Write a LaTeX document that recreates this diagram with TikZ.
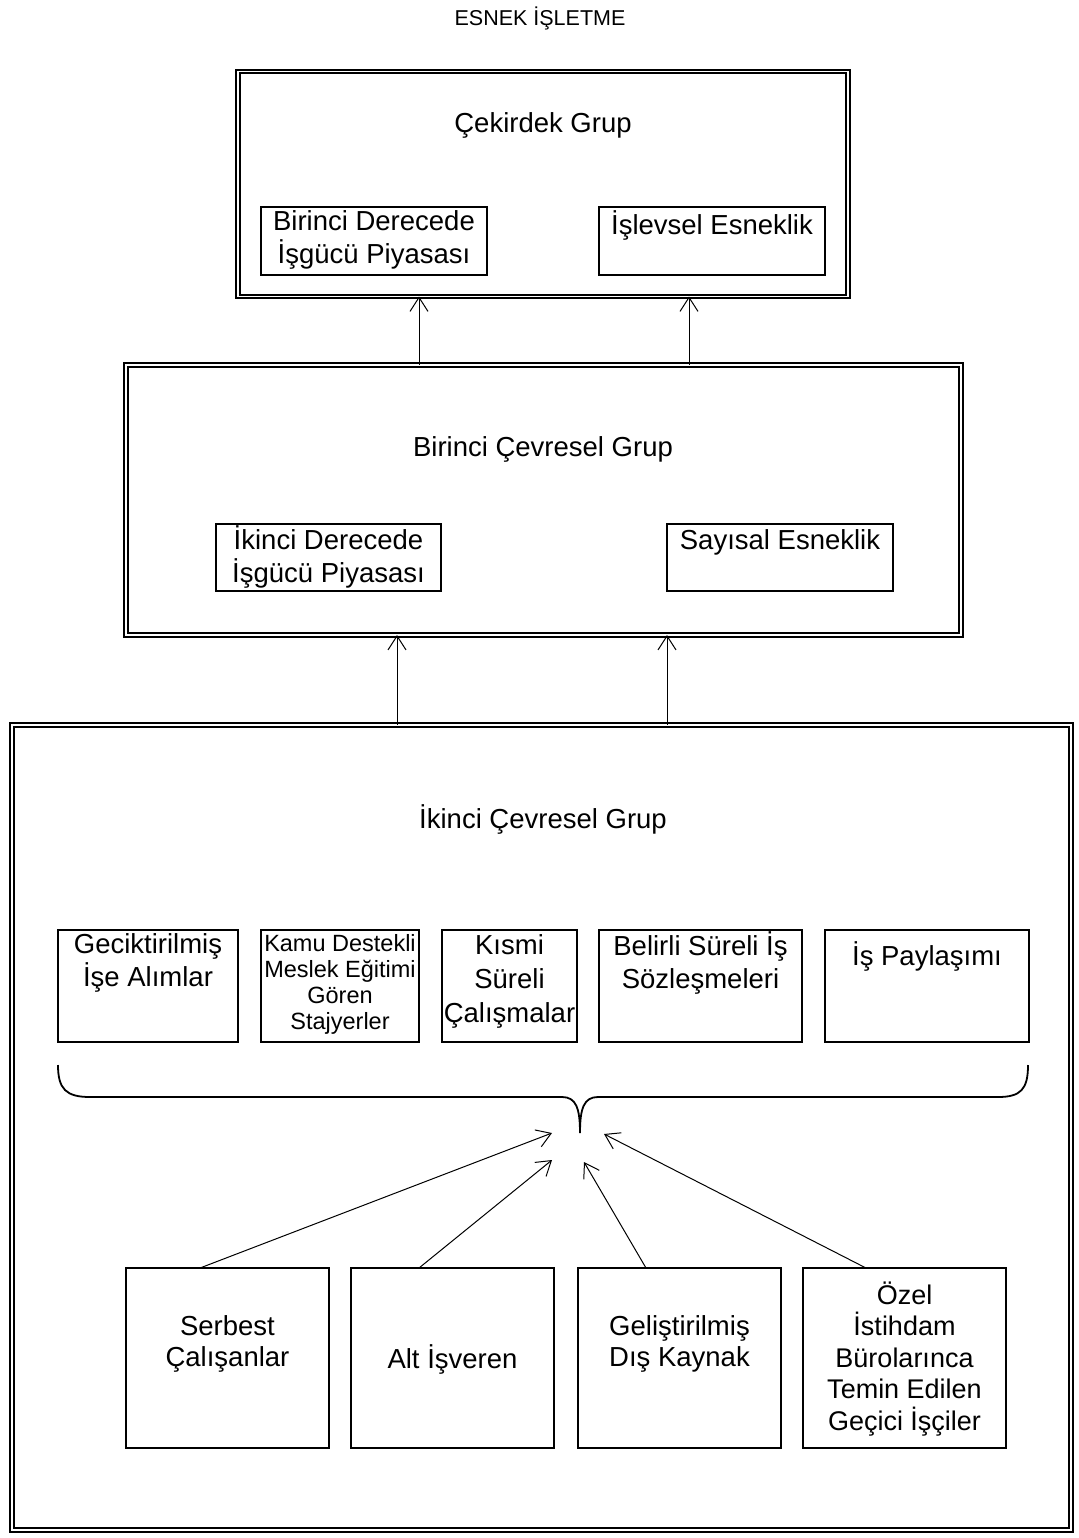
\documentclass[tikz,border=0pt]{standalone}
\usepackage{fontspec}
\setmainfont{Liberation Sans}
\usetikzlibrary{arrows.meta}
\begin{document}
\begin{tikzpicture}[x=1pt,y=-1pt,
  dblbox/.style={draw,double,double distance=1.8pt,line width=2pt,inner sep=0,outer sep=0},
  sbox/.style={draw,line width=1.3pt,inner sep=0,outer sep=0},
  big/.style={font=\fontsize{27.5}{32.5}\selectfont,align=center,inner sep=0},
  small/.style={font=\fontsize{23.5}{26}\selectfont,align=center,inner sep=0},
  arr/.style={line width=1pt,-{Straight Barb[length=14pt,width=18pt,line width=1pt]}}]
\useasboundingbox (0,0) rectangle (1078,1538);

% title
\node[font=\fontsize{21.5}{25}\selectfont,inner sep=0] (title) at (540,18) {ESNEK İŞLETME};

% core group
\node[dblbox,minimum width=610pt,minimum height=225pt] (core) at (543,184) {};
\node[big] (coret) at (543,125) {Çekirdek Grup};
\node[sbox,minimum width=226pt,minimum height=68pt] (b1a) at (374,241) {};
\node[big] (b1at) at (374,240) {Birinci Derecede\\İşgücü Piyasası};
\node[sbox,minimum width=226pt,minimum height=68pt] (b1b) at (712,241) {};
\node[big] (b1bt) at (712,225) {İşlevsel Esneklik};

% first peripheral group
\node[dblbox,minimum width=835pt,minimum height=270pt] (per1) at (543.5,500) {};
\node[big] (per1t) at (543,449) {Birinci Çevresel Grup};
\node[sbox,minimum width=225pt,minimum height=67pt] (b2a) at (328.5,557.5) {};
\node[big] (b2at) at (328.5,557) {İkinci Derecede\\İşgücü Piyasası};
\node[sbox,minimum width=226pt,minimum height=67pt] (b2b) at (780,557.5) {};
\node[big] (b2bt) at (780,542) {Sayısal Esneklik};

% second peripheral group
\node[dblbox,minimum width=1059pt,minimum height=805pt] (per2) at (541.5,1127.5) {};
\node[big] (per2t) at (543,819) {İkinci Çevresel Grup};

% upper row of forms
\node[sbox,minimum width=180pt,minimum height=112pt] (r1) at (148,986) {};
\node[big] (r1t) at (148,963) {Geciktirilmiş\\İşe Alımlar};
\node[sbox,minimum width=158pt,minimum height=112pt] (r2) at (340,986) {};
\node[small] (r2t) at (340,984) {Kamu Destekli\\Meslek Eğitimi\\Gören\\Stajyerler};
\node[sbox,minimum width=135pt,minimum height=112pt] (r3) at (509.5,986) {};
\node[big,font=\fontsize{27.5}{34}\selectfont] (r3t) at (509.5,981) {Kısmi\\Süreli\\Çalışmalar};
\node[sbox,minimum width=203pt,minimum height=112pt] (r4) at (700.5,986) {};
\node[big] (r4t) at (700.5,963) {Belirli Süreli İş\\Sözleşmeleri};
\node[sbox,minimum width=204pt,minimum height=112pt] (r5) at (927,986) {};
\node[big] (r5t) at (927,956) {İş Paylaşımı};

% brace gathering the upper row
\draw[line width=1.8pt] (58,1065) .. controls (58,1089) and (66,1097) .. (90,1097)
  -- (562,1097) .. controls (576,1097) and (580,1108) .. (580,1133)
  .. controls (580,1108) and (584,1097) .. (598,1097)
  -- (998,1097) .. controls (1021,1097) and (1028,1089) .. (1028,1065);
\coordinate (tipA) at (552,1133);
\coordinate (tipB) at (552,1160);
\coordinate (tipC) at (584,1162);
\coordinate (tipD) at (604,1134);

% lower row of forms
\node[sbox,minimum width=203pt,minimum height=180pt] (s1) at (227.5,1358) {};
\node[big,font=\fontsize{27.5}{31.5}\selectfont] (s1t) at (227.5,1344) {Serbest\\Çalışanlar};
\node[sbox,minimum width=203pt,minimum height=180pt] (s2) at (452.5,1358) {};
\node[big] (s2t) at (452.5,1359) {Alt İşveren};
\node[sbox,minimum width=203pt,minimum height=180pt] (s3) at (679.5,1358) {};
\node[big,font=\fontsize{27.5}{31.5}\selectfont] (s3t) at (679.5,1344) {Geliştirilmiş\\Dış Kaynak};
\node[sbox,minimum width=203pt,minimum height=180pt] (s4) at (904.5,1358) {};
\node[big,font=\fontsize{27}{31.5}\selectfont] (s4t) at (904.5,1359) {Özel\\İstihdam\\Bürolarınca\\Temin Edilen\\Geçici İşçiler};

% connectors from the lower row to the brace
\draw[arr] ([xshift=-27.5pt]s1.north) -- (tipA);
\draw[arr] ([xshift=-33.5pt]s2.north) -- (tipB);
\draw[arr] ([xshift=-33.5pt]s3.north) -- (tipC);
\draw[arr] ([xshift=-38.5pt]s4.north) -- (tipD);

% vertical connectors between the groups
\coordinate (xa) at (397,0);
\coordinate (xb) at (667,0);
\coordinate (xc) at (419,0);
\coordinate (xd) at (689,0);
\draw[arr] (xa |- per2.north) -- (xa |- per1.south);
\draw[arr] (xb |- per2.north) -- (xb |- per1.south);
\draw[arr] (xc |- per1.north) -- (xc |- core.south);
\draw[arr] (xd |- per1.north) -- (xd |- core.south);
\end{tikzpicture}
\end{document}
